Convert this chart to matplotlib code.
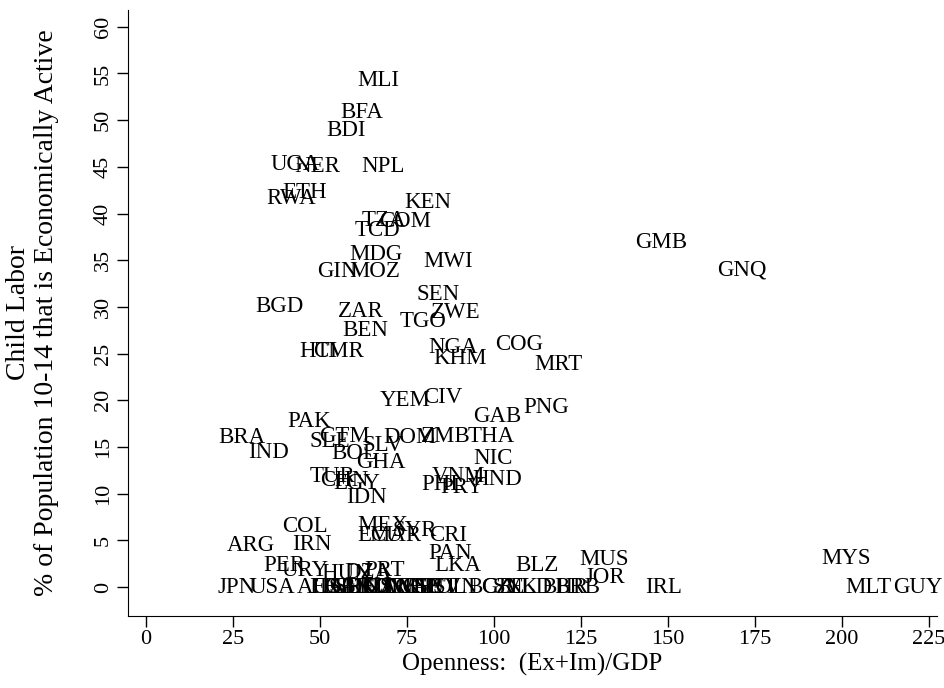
import matplotlib
matplotlib.use('Agg')
import matplotlib.pyplot as plt

plt.rcParams['font.family'] = ['Liberation Serif', 'DejaVu Serif']

# country codes, openness (Ex+Im)/GDP, child labor (%)
codes = ['MLI', 'BFA', 'BDI', 'UGA', 'NER', 'NPL', 'ETH', 'RWA', 'KEN', 'TZA',
         'COM', 'TCD', 'MDG', 'MWI', 'GIN', 'MOZ', 'GMB', 'GNQ', 'SEN', 'BGD',
         'ZAR', 'ZWE', 'TGO', 'BEN', 'NGA', 'COG', 'HTI', 'CMR', 'KHM', 'MRT',
         'YEM', 'CIV', 'PNG', 'GAB', 'PAK', 'BRA', 'GTM', 'SLE', 'DOM', 'ZMB',
         'THA', 'SLV', 'IND', 'BOL', 'NIC', 'GHA', 'TUR', 'CHN', 'EGY', 'IDN',
         'VNM', 'HND', 'PHL', 'PRY', 'COL', 'MEX', 'ECU', 'MAR', 'SYR', 'CRI',
         'ARG', 'IRN', 'PAN', 'LKA', 'BLZ', 'MUS', 'MYS', 'PER', 'URY', 'HUN',
         'DZA', 'PRT', 'JOR']
openness = [66.7, 62.1, 57.5, 42.8, 49.1, 68.1, 45.7, 41.7, 81.0, 68.4,
            74.4, 66.4, 66.1, 86.8, 54.9, 65.8, 148.0, 171.3, 83.9, 38.2,
            61.8, 89.1, 79.6, 62.9, 88.2, 107.2, 49.4, 55.2, 90.2, 118.4,
            74.4, 85.3, 114.9, 100.9, 46.8, 27.6, 56.9, 52.9, 75.9, 86.2,
            99.1, 68.1, 35.1, 59.8, 99.7, 67.5, 53.7, 57.0, 60.5, 63.5,
            89.9, 100.9, 85.3, 90.8, 45.7, 68.1, 67.2, 71.6, 77.3, 86.8,
            30.2, 47.7, 87.4, 89.7, 112.4, 131.6, 201.1, 39.7, 45.7, 57.5,
            63.8, 68.7, 131.9]
child_labor = [54.3, 50.8, 48.9, 45.2, 45.0, 45.0, 42.2, 41.6, 41.2, 39.3,
               39.1, 38.2, 35.6, 34.9, 33.8, 33.8, 36.9, 33.9, 31.3, 30.0,
               29.5, 29.4, 28.4, 27.5, 25.7, 26.0, 25.2, 25.2, 24.5, 23.8,
               20.0, 20.3, 19.2, 18.3, 17.7, 16.0, 16.1, 15.6, 16.0, 16.1,
               16.1, 15.2, 14.4, 14.3, 13.8, 13.3, 11.8, 11.4, 11.1, 9.6,
               11.8, 11.5, 11.0, 10.7, 6.5, 6.6, 5.5, 5.5, 6.1, 5.5,
               4.4, 4.6, 3.6, 2.3, 2.3, 3.0, 3.1, 2.3, 1.8, 1.4,
               1.6, 1.8, 1.0]

# countries with no recorded child labor (value 0)
zero_codes = ['JPN', 'USA', 'AUS', 'ITA', 'FRA', 'ESP', 'GBR', 'GRC', 'FIN', 'DEU',
              'NZL', 'KOR', 'CAN', 'DNK', 'SWE', 'NOR', 'CHE', 'ISR', 'AUT', 'POL',
              'SVN', 'BGR', 'CZE', 'SVK', 'NLD', 'BHR', 'BRB', 'IRL', 'MLT', 'GUY']
zero_openness = [26.1, 36.2, 50.0, 52.0, 54.0, 56.0, 58.0, 60.0, 62.0, 64.0,
                 66.0, 68.0, 70.0, 72.0, 74.0, 76.0, 78.0, 80.5, 83.0, 86.0,
                 89.0, 99.0, 102.5, 106.0, 110.0, 120.5, 124.0, 148.6, 207.5, 221.8]
zero_labor = [0.0] * len(zero_codes)

xticks = [0, 25, 50, 75, 100, 125, 150, 175, 200, 225]
yticks = list(range(0, 61, 5))

fig = plt.figure(figsize=(9.45, 6.88), dpi=100)
ax = fig.add_axes([0.1354, 0.1047, 0.8561, 0.8808])

for c, x, y in zip(codes + zero_codes, openness + zero_openness, child_labor + zero_labor):
    ax.text(x, y, c, ha='center', va='center', fontsize=16.5, color='black')

ax.set_xlim(-5.2, 227.3)
ax.set_ylim(-3.1, 61.8)
ax.set_xticks(xticks)
ax.set_yticks(yticks)
ax.tick_params(axis='both', direction='out', length=8, width=1, labelsize=16)
ax.tick_params(axis='y', pad=3)
ax.tick_params(axis='x', pad=2)
for lab in ax.get_yticklabels():
    lab.set_rotation(90)
    lab.set_va('center')
ax.spines['top'].set_visible(False)
ax.spines['right'].set_visible(False)

ax.set_xlabel('Openness:  (Ex+Im)/GDP', fontsize=18, labelpad=3)
ax.set_ylabel('Child Labor\n% of Population 10-14 that is Economically Active',
              fontsize=20, linespacing=1.15)
ax.yaxis.set_label_coords(-0.085, 0.5)

fig.savefig('out.png', dpi=100)
